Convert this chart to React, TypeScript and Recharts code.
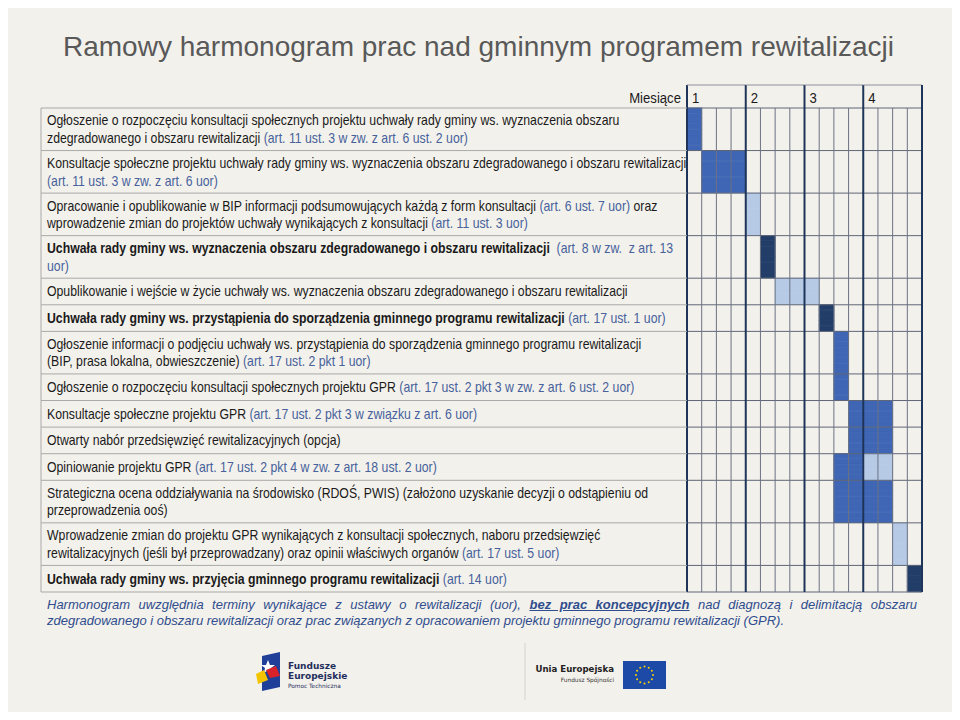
import { BarChart, Bar, XAxis, YAxis, ReferenceLine } from "recharts";

// harmonogram: 14 zadań, 4 miesiące po 4 tygodnie
const taskLabels: string[][] = [
  [
    "Ogłoszenie o rozpoczęciu konsultacji społecznych projektu uchwały rady gminy ws. wyznaczenia obszaru",
    "zdegradowanego i obszaru rewitalizacji (art. 11 ust. 3 w zw. z art. 6 ust. 2 uor)",
  ],
  [
    "Konsultacje społeczne projektu uchwały rady gminy ws. wyznaczenia obszaru zdegradowanego i obszaru rewitalizacji",
    "(art. 11 ust. 3 w zw. z art. 6 uor)",
  ],
  [
    "Opracowanie i opublikowanie w BIP informacji podsumowujących każdą z form konsultacji (art. 6 ust. 7 uor) oraz",
    "wprowadzenie zmian do projektów uchwały wynikających z konsultacji (art. 11 ust. 3 uor)",
  ],
  [
    "Uchwała rady gminy ws. wyznaczenia obszaru zdegradowanego i obszaru rewitalizacji  (art. 8 w zw.  z art. 13",
    "uor)",
  ],
  ["Opublikowanie i wejście w życie uchwały ws. wyznaczenia obszaru zdegradowanego i obszaru rewitalizacji"],
  ["Uchwała rady gminy ws. przystąpienia do sporządzenia gminnego programu rewitalizacji (art. 17 ust. 1 uor)"],
  [
    "Ogłoszenie informacji o podjęciu uchwały ws. przystąpienia do sporządzenia gminnego programu rewitalizacji",
    "(BIP, prasa lokalna, obwieszczenie) (art. 17 ust. 2 pkt 1 uor)",
  ],
  ["Ogłoszenie o rozpoczęciu konsultacji społecznych projektu GPR (art. 17 ust. 2 pkt 3 w zw. z art. 6 ust. 2 uor)"],
  ["Konsultacje społeczne projektu GPR (art. 17 ust. 2 pkt 3 w związku z art. 6 uor)"],
  ["Otwarty nabór przedsięwzięć rewitalizacyjnych (opcja)"],
  ["Opiniowanie projektu GPR (art. 17 ust. 2 pkt 4 w zw. z art. 18 ust. 2 uor)"],
  [
    "Strategiczna ocena oddziaływania na środowisko (RDOŚ, PWIS) (założono uzyskanie decyzji o odstąpieniu od",
    "przeprowadzenia ooś)",
  ],
  [
    "Wprowadzenie zmian do projektu GPR wynikających z konsultacji społecznych, naboru przedsięwzięć",
    "rewitalizacyjnych (jeśli był przeprowadzany) oraz opinii właściwych organów (art. 17 ust. 5 uor)",
  ],
  ["Uchwała rady gminy ws. przyjęcia gminnego programu rewitalizacji (art. 14 uor)"],
];

const startWeek = [0, 1, 4, 5, 6, 9, 10, 10, 11, 11, 10, 10, 14, 15];
const blueWeeks = [1, 3, 0, 0, 0, 0, 1, 1, 3, 3, 2, 4, 0, 0];
const lightWeeks = [0, 0, 1, 0, 3, 0, 0, 0, 0, 0, 2, 0, 1, 0];
const darkWeeks = [0, 0, 0, 1, 0, 1, 0, 0, 0, 0, 0, 0, 0, 1];

const months = ["1", "2", "3", "4"];
const weeksPerMonth = 4;
const totalWeeks = months.length * weeksPerMonth;

const W = 960;
const H = 720;
const M = { top: 85, right: 38, bottom: 128, left: 41 };
const Y_AXIS_W = 646;
const HEAD_H = 23;
const PLOT_H = H - M.top - M.bottom - HEAD_H;
const PLOT_W = W - M.left - M.right - Y_AXIS_W;

const BG = "#f3f1ec";
const BLUE = "#3f66b4";
const LIGHT = "#b6cae6";
const DARK = "#213d68";
const ART = "#46619b";
const TEXT = "#1a1a1a";
const MONTH_LINE = "#1f3459";
const WEEK_LINE = "#6b7282";
const ROW_LINE = "#5f6676";
const LEFT_LINE = "#a9a9a9";
const FONT = "'Liberation Sans', Arial, sans-serif";
const NARROW = 0.876; // brak Arial Narrow, więc ściskamy Liberation Sans

const unitsOf = (lines: string[]) => (lines.length > 1 ? 8 : 5);
const totalUnits = taskLabels.reduce((s, l) => s + unitsOf(l), 0);
const BAND = PLOT_H / totalUnits;

const rows = taskLabels.flatMap((lines, t) =>
  Array.from({ length: unitsOf(lines) }, (_, s) => ({
    id: `${t}-${s}`,
    off: startWeek[t],
    blue: blueWeeks[t],
    light: lightWeeks[t],
    dark: darkWeeks[t],
  }))
);
const firstIds = taskLabels.map((_, t) => `${t}-0`);
const lastId = rows[rows.length - 1].id;
const weekLines = Array.from({ length: totalWeeks + 1 }, (_, i) => i);

// dzieli linie na fragmenty, "(art. ...)" na niebiesko, także przez złamanie wiersza
function splitSegments(lines: string[]) {
  let inArt = false;
  return lines.map((line) => {
    const segs: { text: string; art: boolean }[] = [];
    let buf = "";
    for (let i = 0; i < line.length; i++) {
      if (!inArt && line.startsWith("(art.", i)) {
        if (buf) segs.push({ text: buf, art: false });
        buf = "";
        inArt = true;
      }
      buf += line[i];
      if (inArt && line[i] === ")") {
        segs.push({ text: buf, art: true });
        buf = "";
        inArt = false;
      }
    }
    if (buf) segs.push({ text: buf, art: inArt });
    return segs;
  });
}

const NarrowText = ({ x, y, anchor, size, children, bold }: any) => (
  <text
    transform={`translate(${x} ${y}) scale(${NARROW} 1)`}
    textAnchor={anchor || "start"}
    fontFamily={FONT}
    fontSize={size}
    fontWeight={bold ? 700 : 400}
    fill={TEXT}
    style={{ whiteSpace: "pre" }}
  >
    {children}
  </text>
);

const TaskTick = (props: any) => {
  const { y, payload } = props;
  const [t, s] = String(payload.value).split("-").map(Number);
  if (s !== 0) return <g />;
  const lines = taskLabels[t];
  const top = y - BAND / 2;
  const h = unitsOf(lines) * BAND;
  const mid = top + h / 2;
  const bold = lines[0].startsWith("Uchwała");
  const segs = splitSegments(lines);
  const lh = 17.6;
  const x0 = M.left;
  const x1 = M.left + Y_AXIS_W;
  return (
    <g>
      <line x1={x0} x2={x1} y1={top} y2={top} stroke={LEFT_LINE} />
      {t === taskLabels.length - 1 && <line x1={x0} x2={x1} y1={top + h} y2={top + h} stroke={LEFT_LINE} />}
      <line x1={x0} x2={x0} y1={top} y2={top + h} stroke={LEFT_LINE} />
      {segs.map((line, i) => (
        <NarrowText key={i} x={x0 + 6} y={mid + 5 + (i - (segs.length - 1) / 2) * lh} size={14}>
          {line.map((sg, j) => (
            <tspan key={j} fill={sg.art ? ART : TEXT} fontWeight={bold && !sg.art ? 700 : 400}>
              {sg.text}
            </tspan>
          ))}
        </NarrowText>
      ))}
    </g>
  );
};

const MonthTick = (props: any) => {
  const { x, payload } = props;
  const m = payload.value / weeksPerMonth;
  const top = M.top;
  const mw = PLOT_W / months.length;
  return (
    <g>
      <line x1={x} x2={x} y1={top} y2={top + HEAD_H} stroke={MONTH_LINE} strokeWidth={2} />
      {m < months.length && <line x1={x} x2={x + mw} y1={top} y2={top} stroke="#8c909a" />}
      {m < months.length && (
        <NarrowText x={x + 5} y={top + 17.5} size={15}>
          {months[m]}
        </NarrowText>
      )}
      {m === 0 && (
        <NarrowText x={x - 6} y={top + 17.5} anchor="end" size={15}>
          Miesiące
        </NarrowText>
      )}
    </g>
  );
};

// stroke w kolorze wypełnienia zakrywa szwy między pod-wierszami
const cell = (p: any) =>
  p.fill === "none" ? (
    <g />
  ) : (
    <rect
      x={p.x}
      y={p.y}
      width={Math.max(0, p.width || 0)}
      height={Math.max(0, p.height || 0)}
      fill={p.fill}
      stroke={p.width > 0 ? p.fill : "none"}
      strokeWidth={0.9}
    />
  );

const Logos = () => (
  <svg width={W} height={80} style={{ position: "absolute", left: 0, top: 640 }}>
    <polygon points="262,16 280,12 280,47 262,51" fill="#1f3f99" />
    <polygon points="268,20 270,25 275,25 271,28 272,33 268,30 264,33 265,28 261,25 266,25" fill="#ffffff" />
    <polygon points="256,34 264,30 268,40 258,44" fill="#f2c500" />
    <polygon points="266,30 276,26 280,36 270,38" fill="#d8232a" />
    <text x={288} y={29} fontFamily="'DejaVu Sans', sans-serif" fontWeight={700} fontSize={9} fill="#1f2f5c">
      Fundusze
    </text>
    <text x={288} y={39} fontFamily="'DejaVu Sans', sans-serif" fontWeight={700} fontSize={9} fill="#1f2f5c">
      Europejskie
    </text>
    <text x={288} y={48} fontFamily="'DejaVu Sans', sans-serif" fontSize={5.8} fill="#1f2f5c">
      Pomoc Techniczna
    </text>
    <line x1={525} x2={525} y1={3} y2={60} stroke="#d6d3cc" />
    <text x={614} y={32} textAnchor="end" fontFamily="'DejaVu Sans', sans-serif" fontWeight={700} fontSize={8.6} fill="#222">
      Unia Europejska
    </text>
    <text x={614} y={42} textAnchor="end" fontFamily="'DejaVu Sans', sans-serif" fontSize={5.8} fill="#333">
      Fundusz Spójności
    </text>
    <rect x={623} y={21} width={43} height={28} fill="#1d4aa6" />
    {Array.from({ length: 12 }, (_, i) => (
      <circle
        key={i}
        cx={644.5 + 8.5 * Math.cos((i * Math.PI) / 6)}
        cy={35 + 8.5 * Math.sin((i * Math.PI) / 6)}
        r={1}
        fill="#f5d200"
      />
    ))}
  </svg>
);

const App = () => {
  return (
    <div style={{ position: "relative", width: W, height: H, margin: -8, background: BG, overflow: "hidden" }}>
      <div
        style={{
          position: "absolute",
          left: 63,
          top: 30,
          fontFamily: FONT,
          fontSize: 28,
          lineHeight: "34px",
          color: "#595959",
          whiteSpace: "nowrap",
        }}
      >
        Ramowy harmonogram prac nad gminnym programem rewitalizacji
      </div>
      <div style={{ position: "absolute", left: 0, top: 0 }}>
        <BarChart
          width={W}
          height={H}
          layout="vertical"
          data={rows}
          margin={M}
          barCategoryGap={0}
          barGap={0}
        >
          <XAxis
            type="number"
            orientation="top"
            domain={[0, totalWeeks]}
            ticks={[0, 4, 8, 12, 16]}
            interval={0}
            height={HEAD_H}
            axisLine={false}
            tickLine={false}
            tick={<MonthTick />}
            allowDataOverflow
          />
          <YAxis
            type="category"
            dataKey="id"
            width={Y_AXIS_W}
            interval={0}
            axisLine={false}
            tickLine={false}
            tick={<TaskTick />}
          />
          <Bar dataKey="off" stackId="g" fill="none" isAnimationActive={false} shape={cell} />
          <Bar dataKey="blue" stackId="g" fill={BLUE} isAnimationActive={false} shape={cell} />
          <Bar dataKey="light" stackId="g" fill={LIGHT} isAnimationActive={false} shape={cell} />
          <Bar dataKey="dark" stackId="g" fill={DARK} isAnimationActive={false} shape={cell} />
          {firstIds.map((id) => (
            <ReferenceLine key={id} y={id} position="start" stroke={ROW_LINE} strokeWidth={1} zIndex={600} />
          ))}
          <ReferenceLine y={lastId} position="end" stroke={ROW_LINE} strokeWidth={1} zIndex={600} />
          {weekLines.map((w) => (
            <ReferenceLine
              key={`w${w}`}
              x={w}
              stroke={w % weeksPerMonth === 0 ? MONTH_LINE : WEEK_LINE}
              strokeWidth={w % weeksPerMonth === 0 ? 2 : 1}
              zIndex={600}
            />
          ))}
        </BarChart>
      </div>
      <div
        style={{
          position: "absolute",
          left: 47,
          top: 597,
          width: 870,
          fontFamily: FONT,
          fontStyle: "italic",
          fontSize: 13,
          lineHeight: "15.5px",
          color: "#2f4d8c",
        }}
      >
        <div style={{ textAlign: "justify", textAlignLast: "justify", whiteSpace: "nowrap" }}>
          Harmonogram uwzględnia terminy wynikające z ustawy o rewitalizacji (uor),{" "}
          <b style={{ textDecoration: "underline" }}>bez prac koncepcyjnych</b> nad diagnozą i delimitacją obszaru
        </div>
        <div>
          zdegradowanego i obszaru rewitalizacji oraz prac związanych z opracowaniem projektu gminnego programu
          rewitalizacji (GPR).
        </div>
      </div>
      <Logos />
    </div>
  );
};

export default App;
